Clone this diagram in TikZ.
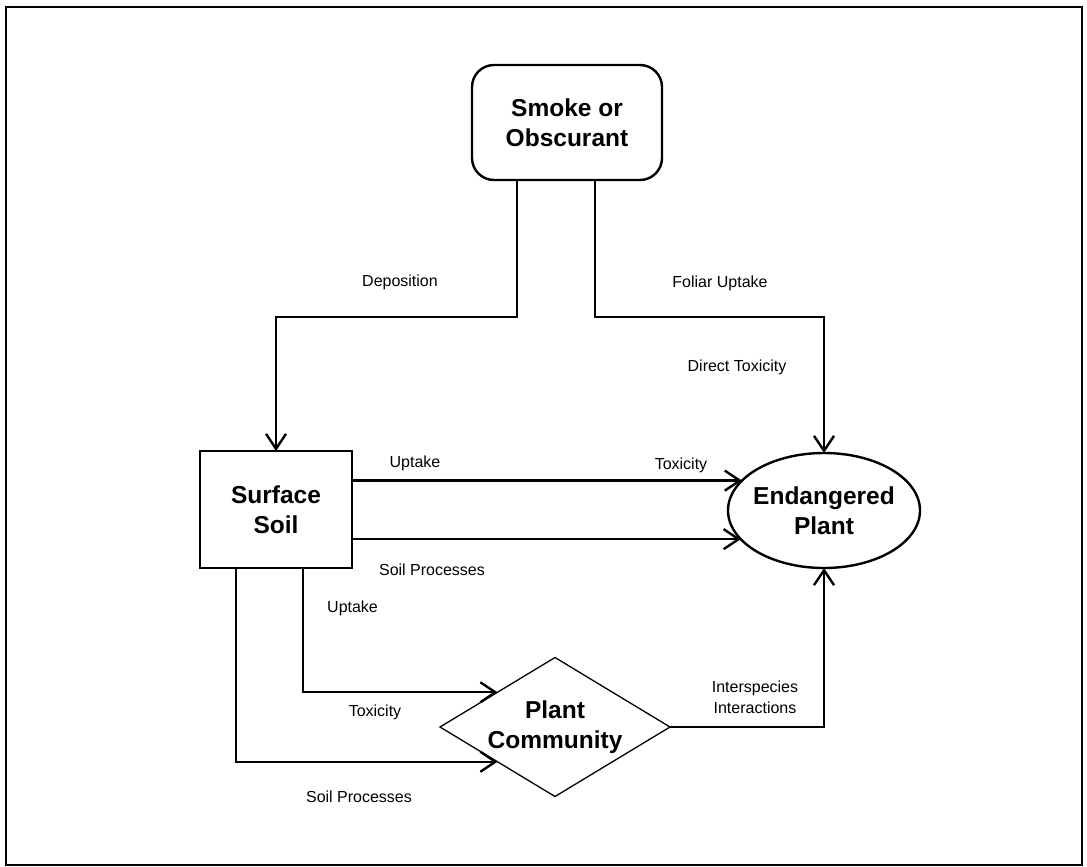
\documentclass[tikz,border=0pt]{standalone}
\usepackage{fontspec}
\setmainfont{Liberation Sans}
\usetikzlibrary{shapes.geometric,arrows.meta}
\begin{document}
\begin{tikzpicture}[x=1pt,y=-1pt,
 ln/.style={line width=2.4pt},
 arr/.style={ln,-{Straight Barb[length=15pt,width=20pt,line width=2.4pt]}},
 big/.style={font=\fontsize{24.5}{30}\selectfont\bfseries, align=center},
 lab/.style={font=\fontsize{16}{21}\selectfont, inner sep=0pt},
]
\useasboundingbox (0,0) rectangle (1087,867);
\draw[line width=2.8pt] (6,7) rectangle (1082,865);
\node[draw,ln,rounded corners=22pt,minimum width=190pt,minimum height=115pt,outer sep=0pt,big] (smoke) at (567,122.5) {Smoke or\\Obscurant};
\node[draw,ln,minimum width=152pt,minimum height=117pt,outer sep=0pt,big] (soil) at (276,509.5) {Surface\\Soil};
\node[draw,ln,ellipse,minimum width=192pt,minimum height=115pt,inner xsep=-12pt,inner ysep=0pt,outer sep=0pt,big] (plant) at (824,510.5) {Endangered\\Plant};
\node[draw,line width=1.3pt,diamond,aspect=1.655,minimum width=230pt,minimum height=139pt,inner sep=0pt,outer sep=0pt,big] (comm) at (555,727) {Plant\\Community};

\draw[arr] ([xshift=-50pt]smoke.south) -- ++(0,137) -| (soil.north);
\draw[arr] ([xshift=28pt]smoke.south) -- ++(0,137) -| (plant.north);
\draw[arr] (soil.east |- plant.160.5) -- (plant.160.5);
\draw[arr] (soil.east |- plant.199.5) -- (plant.199.5);
\draw[arr] ([xshift=27pt]soil.south) |- (comm.north west);
\draw[arr] ([xshift=-40pt]soil.south) |- (comm.south west);
\draw[arr] (comm.east) -| (plant.south);

\node[lab] (ldep) at (400,282) {Deposition};
\node[lab] (lfol) at (720,283) {Foliar Uptake};
\node[lab] (ldir) at (737,367) {Direct Toxicity};
\node[lab] (lup1) at (415,463) {Uptake};
\node[lab] (ltox1) at (681,465) {Toxicity};
\node[lab] (lsp1) at (432,570) {Soil Processes};
\node[lab,anchor=west] (lup2) at (327,608) {Uptake};
\node[lab] (ltox2) at (375,712) {Toxicity};
\node[lab] (lsp2) at (359,797) {Soil Processes};
\node[lab,align=center] (lint) at (755,697) {Interspecies\\Interactions};
\end{tikzpicture}
\end{document}
